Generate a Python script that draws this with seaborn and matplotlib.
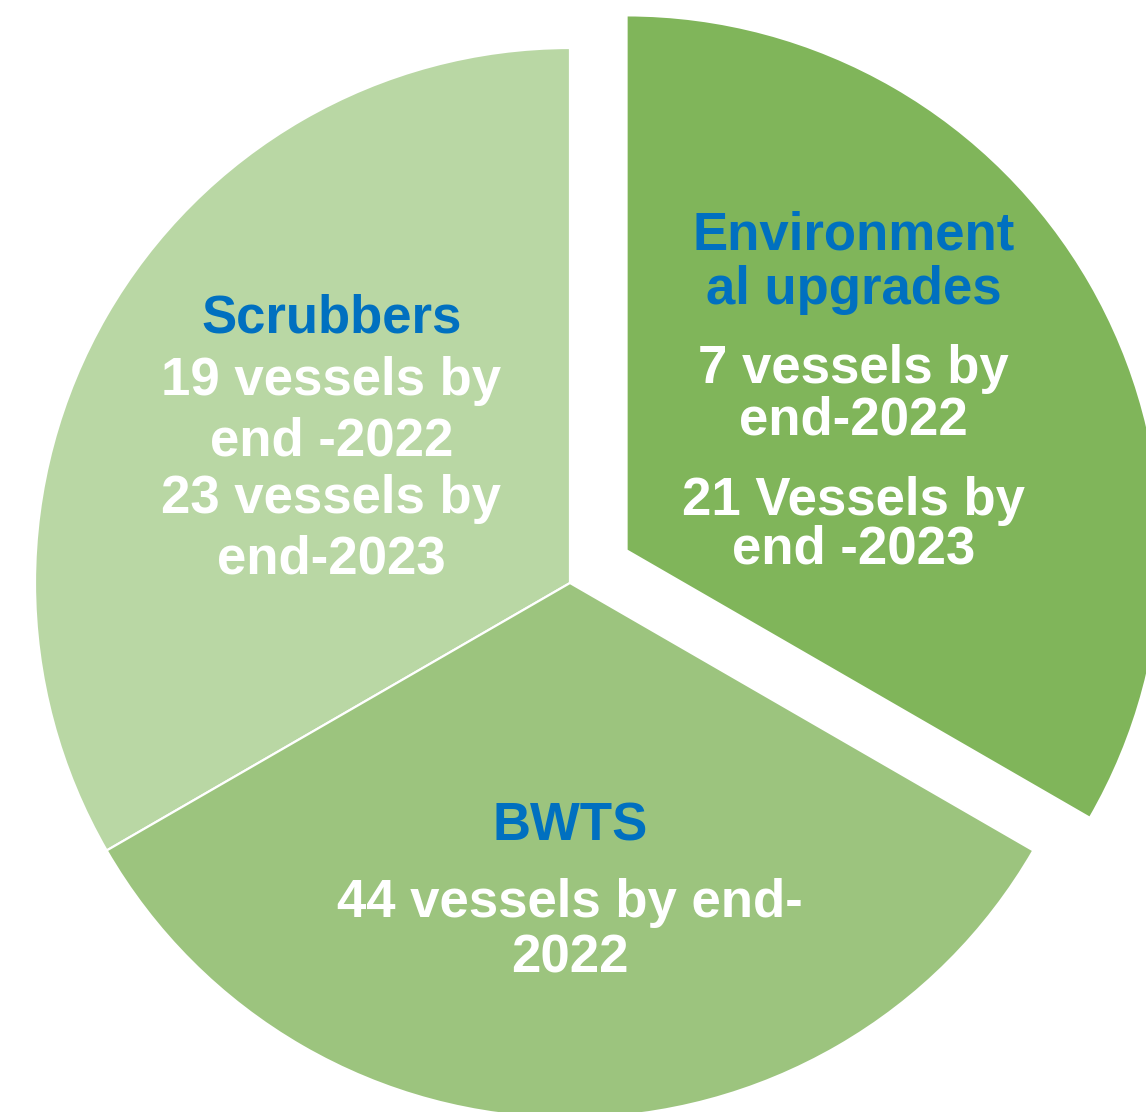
import numpy as np
import matplotlib
matplotlib.use("Agg")
import matplotlib.pyplot as plt
import seaborn as sns

# Retrofit programmes: three equal segments
categories = ["Scrubbers", "BWTS", "Environmental upgrades"]
shares = [1, 1, 1]
titles = [["Scrubbers"], ["BWTS"], ["Environment", "al upgrades"]]
details = [
    ["19 vessels by", "end -2022", "23 vessels by", "end-2023"],
    ["44 vessels by end-", "2022"],
    ["7 vessels by", "end-2022", "21 Vessels by", "end -2023"],
]
colors = ["#b9d7a4", "#9cc47e", "#80b55a"]
title_color = "#0070c0"

sns.set_theme(style="white")
plt.rcParams["font.family"] = ["Liberation Sans", "DejaVu Sans"]

fig = plt.figure(figsize=(11.46, 11.12), dpi=100)
ax = fig.add_axes([0, 0, 1, 1])

explode = [0, 0, 0.122]
wedges, _ = ax.pie(
    shares,
    colors=colors,
    startangle=90,
    counterclock=True,
    explode=explode,
    radius=1.0,
    wedgeprops=dict(edgecolor="white", linewidth=1.6),
)

# The pie runs off the right and bottom edges of the figure
ax.set_xlim(-1.0654, 1.0766)
ax.set_ylim(-0.9888, 1.0897)
ax.set_aspect("auto")
ax.axis("off")

# Label anchors sit on each wedge's bisector; lines are stacked by baseline offsets (pixels)
label_radius = [0.515, 0.52, 0.49]
line_offsets = [
    [-113, -50, 10, 68, 128],
    [-21, 56, 111],
    [-170, -115, -36, 15, 96, 144],
]
fs = 38
for i, w in enumerate(wedges):
    theta = np.deg2rad((w.theta1 + w.theta2) / 2)
    cx, cy = w.center
    ax_x = cx + label_radius[i] * np.cos(theta)
    ax_y = cy + label_radius[i] * np.sin(theta)
    lines = [(t, title_color) for t in titles[i]] + [(t, "white") for t in details[i]]
    for (txt, col), off in zip(lines, line_offsets[i]):
        ax.annotate(
            txt,
            xy=(ax_x, ax_y),
            xytext=(0, -off),
            textcoords="offset pixels",
            ha="center",
            va="baseline",
            fontsize=fs,
            fontweight="bold",
            color=col,
        )

fig.savefig("out.png", dpi=100, facecolor="white")
